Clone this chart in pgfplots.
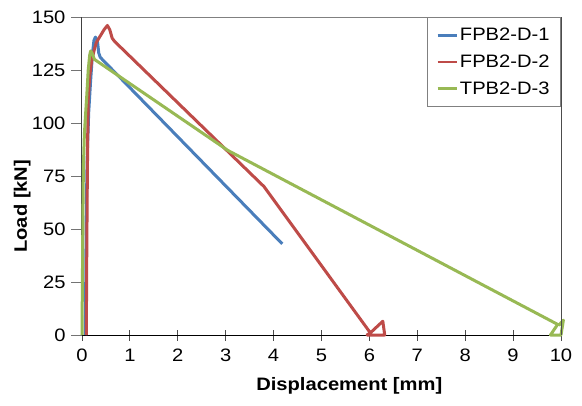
\documentclass[border=0pt]{standalone}
\usepackage{pgfplots}
\pgfplotsset{compat=1.18}
\usepackage{fontspec}
\setmainfont[FakeStretch=1.12]{Liberation Sans}
\definecolor{cblue}{HTML}{4A7EBB}
\definecolor{cred}{HTML}{BE4B48}
\definecolor{cgreen}{HTML}{98B954}
\newcommand{\cf}{\fontsize{18}{21}\selectfont}
\begin{document}
\begin{tikzpicture}
\path[use as bounding box] (-82pt,-70pt) rectangle (500pt,335pt);
\begin{axis}[
  at={(0,0)}, anchor=south west,
  width=479pt, height=318pt, scale only axis,
  xmin=0, xmax=10, ymin=0, ymax=150,
  xtick={0,1,...,10}, ytick={0,25,...,150},
  axis x line*=bottom, axis y line*=left,
  x axis line style={-, black, line width=1pt},
  y axis line style={-, black!75, line width=1pt},
  xtick align=center, ytick align=outside,
  major tick length=11pt,
  x tick style={black!70, line width=0.8pt},
  y tick style={black!55, line width=0.8pt},
  /pgf/number format/assume math mode=true,
  tick label style={font=\cf},
  xticklabel style={yshift=-5pt},
  yticklabel style={xshift=-2pt},
  clip=false,
  xlabel={\textbf{Displacement [mm]}},
  ylabel={\textbf{Load [kN]}},
  xlabel style={at={(axis description cs:0.558,-0.176)}, anchor=base, font=\cf},
  ylabel style={at={(axis description cs:-0.125,0.405)}, anchor=center, font=\cf},
  legend style={at={(rel axis cs:1,1)}, anchor=north east, draw=black!50, line width=0.8pt,
    fill=white, font=\cf, inner xsep=9pt, inner ysep=9pt, row sep=8.5pt,
    nodes={inner sep=2pt}, legend cell align=left},
  legend image code/.code={\draw[#1, line width=2.8pt] (0pt,0pt) -- (19pt,0pt);},
  every axis plot/.append style={line width=3pt, line join=round},
]
\addplot[cblue] coordinates {
(0.07,0) (0.08,30) (0.09,60) (0.11,85) (0.14,105) (0.18,120) (0.22,133) (0.25,139)
(0.28,140.5) (0.32,139) (0.35,133) (0.38,131) (4.18,43)
};
\addlegendentry{FPB2-D-1}
\addplot[cred] coordinates {
(0.09,0) (0.10,40) (0.11,70) (0.12,95) (0.13,111) (0.16,122) (0.20,129) (0.25,134)
(0.30,138) (0.38,141) (0.46,144) (0.53,146) (0.58,144) (0.63,140) (0.68,138.5)
(3.80,70) (6.02,1) (5.95,0) (6.32,0) (6.28,6.5) (6.02,1)
};
\addlegendentry{FPB2-D-2}
\addplot[cgreen] coordinates {
(0,0) (0.01,30) (0.02,60) (0.03,80) (0.05,95) (0.08,106) (0.10,113) (0.13,125)
(0.16,132) (0.18,134) (0.21,133) (0.26,130) (3.05,87) (9.93,5) (9.78,0) (10.0,0)
(10.05,7) (9.95,4.5)
};
\addlegendentry{TPB2-D-3}
\draw[black!50, line width=0.8pt] (rel axis cs:0,1) -- (rel axis cs:1,1);
\draw[black!70, line width=0.8pt] (rel axis cs:1,1) -- (rel axis cs:1,0);
\end{axis}
\end{tikzpicture}
\end{document}
